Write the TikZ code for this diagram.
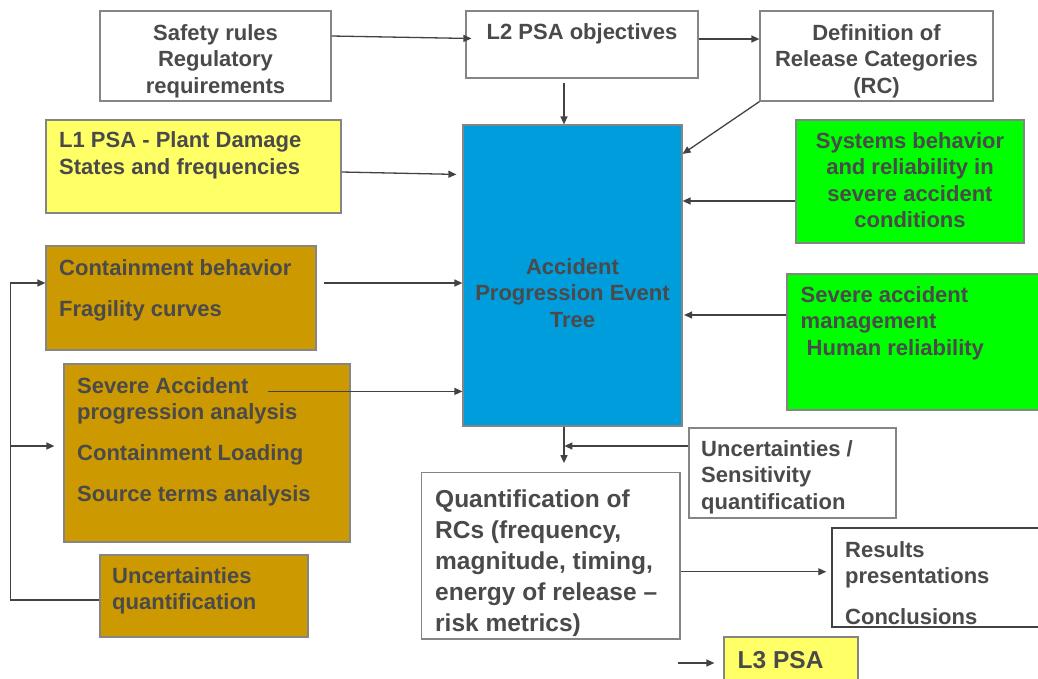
\documentclass[tikz,border=0pt]{standalone}
\usepackage{fontspec}
\setmainfont{Liberation Sans}
\usetikzlibrary{arrows.meta,calc,positioning}
\definecolor{PSAyellow}{HTML}{FFFF66}
\definecolor{PSAblue}{HTML}{009DDC}
\definecolor{PSAgreen}{HTML}{00FF00}
\definecolor{PSAgold}{HTML}{CC9900}
\definecolor{PSAink}{HTML}{4A4A4A}
\definecolor{PSAline}{HTML}{424242}
\definecolor{PSAedge}{HTML}{858585}

\begin{document}
\begin{tikzpicture}[
  x=1pt,y=-1pt,
  font=\bfseries\fontsize{22}{26.5}\selectfont,
  flow/.style={draw=PSAline,line width=1.3pt,-{Triangle[length=8pt,width=7pt]}},
  panel/.style={draw=PSAedge,line width=1.2pt,fill=white,inner sep=0pt},
  txt/.style={text=PSAink,inner sep=0pt,align=left,anchor=base west},
  ctxt/.style={text=PSAink,inner sep=0pt,align=center,anchor=base},
  big/.style={font=\bfseries\fontsize{24.5}{31}\selectfont}
]
\useasboundingbox (0,0) rectangle (1038,678);

% Top row: inputs to the L2 PSA.
% (text nodes sit on the baseline of their last line)
\node[panel,minimum width=231,minimum height=90] (safety) at (215.5,56) {};
\node[ctxt] (safetytxt) at (215.5,93) {Safety rules\\Regulatory\\requirements};
\node[panel,minimum width=232,minimum height=67] (objectives) at (582,44.5) {};
\node[ctxt] (objtxt) at (582,39) {L2 PSA objectives};
\node[panel,minimum width=233,minimum height=90] (releasecat) at (876.5,56) {};
\node[ctxt] (rctxt) at (876.5,93) {Definition of\\Release Categories\\(RC)};

% Central event tree.
\node[panel,fill=PSAblue,minimum width=219,minimum height=301] (apet) at (572.5,275.5) {};
\node[ctxt] (apettxt) at (572.5,327) {Accident\\Progression Event\\Tree};

% Left column.
\node[panel,fill=PSAyellow,minimum width=295,minimum height=93] (plantdamage) at (193.5,166.5) {};
\node[txt] (pdstxt) at (59,174) {L1 PSA - Plant Damage\\States and frequencies};
\node[panel,fill=PSAgold,minimum width=270,minimum height=104] (containment) at (181,298) {};
\node[txt] (contxt) at (59,316) {Containment behavior\\[14.5pt]Fragility curves};
\node[panel,fill=PSAgold,minimum width=286,minimum height=178] (sapa) at (207,453) {};
\node[txt] (sapatxt) at (77,501) {Severe Accident\\progression analysis\\[14.5pt]Containment Loading\\[14pt]Source terms analysis};
\node[panel,fill=PSAgold,minimum width=208,minimum height=82] (uncq) at (204,596) {};
\node[txt] (uncqtxt) at (112,609.5) {Uncertainties\\quantification};

% Right column.
\node[panel,fill=PSAgreen,minimum width=228,minimum height=123] (systems) at (910,181.5) {};
\node[ctxt] (systxt) at (910,227.5) {Systems behavior\\and reliability in\\severe accident\\conditions};
\node[panel,fill=PSAgreen,minimum width=256,minimum height=136] (sam) at (915,342) {};
\node[txt] (samtxt) at (800.5,355) {Severe accident\\management\\\hspace*{6pt}Human reliability};

% Bottom: quantification and outputs.
\node[panel,minimum width=207,minimum height=90] (uncsens) at (792.5,473) {};
\node[txt] (unctxt) at (701,509) {Uncertainties /\\Sensitivity\\quantification};
\node[panel,minimum width=258.5,minimum height=166.5] (quant) at (550.75,555.75) {};
\node[txt,big] (quanttxt) at (435,631) {Quantification of\\RCs (frequency,\\magnitude, timing,\\energy of release --\\risk metrics)};
\node[panel,draw=PSAline,line width=1.5pt,minimum width=212,minimum height=99] (results) at (938,577.5) {};
\node[txt] (restxt) at (845,624.5) {Results\\presentations\\[14.5pt]Conclusions};
\node[panel,fill=PSAyellow,minimum width=134,minimum height=48] (l3psa) at (791,661) {};
\node[txt,big] (l3txt) at (737.5,668.5) {L3 PSA};

% Connectors.
\draw[flow] ([yshift=20pt]safety.east) -- ([xshift=6pt,yshift=6pt]objectives.west);
\draw[flow] ([yshift=5.5pt]objectives.east) -- ([yshift=5.5pt]objectives.east -| releasecat.west);
\draw[flow] ([xshift=-18pt,yshift=-4.5pt]objectives.south) -- ([xshift=-18pt]objectives.south |- apet.north);
\draw[flow] (releasecat.south west) -- ([yshift=-29.5pt]apet.north east);
\draw[flow] ([yshift=-5.5pt]plantdamage.east) -- ([xshift=-6pt,yshift=-50pt]apet.north west);
\draw[flow] ([yshift=-19.5pt]systems.west) -- ([yshift=-19.5pt]systems.west -| apet.east);
\draw[flow] ([yshift=27pt]sam.west) -- ([xshift=1.5pt,yshift=27pt]sam.west -| apet.east);
\draw[flow] ([xshift=7pt,yshift=15pt]containment.east) -- ([yshift=15pt]containment.east -| apet.west);
\draw[flow] ([xshift=205pt,yshift=-28pt]sapa.north west) -- ([yshift=-28pt]sapa.north west -| apet.west);

% Feedback from uncertainties to the left column.
\draw[flow] ([yshift=-4pt]uncq.west) -- ++(-89,0) |- ([yshift=15pt]containment.west);
\coordinate (tap) at (11,446);
\draw[flow] (tap) -- ([xshift=-9pt]tap -| sapa.west);

\draw[flow] ([xshift=-8.5pt]apet.south) -- ++(0,36.5);
\draw[flow] ([yshift=27pt]uncsens.west) -- ++(-124,0);
\draw[flow] ([yshift=-16pt]quant.east) -- ([xshift=-5pt,yshift=-16pt]quant.east -| results.west);
\draw[flow] ([xshift=-45pt,yshift=-2pt]l3psa.west) -- ([xshift=-9pt,yshift=-2pt]l3psa.west);

\end{tikzpicture}
\end{document}
